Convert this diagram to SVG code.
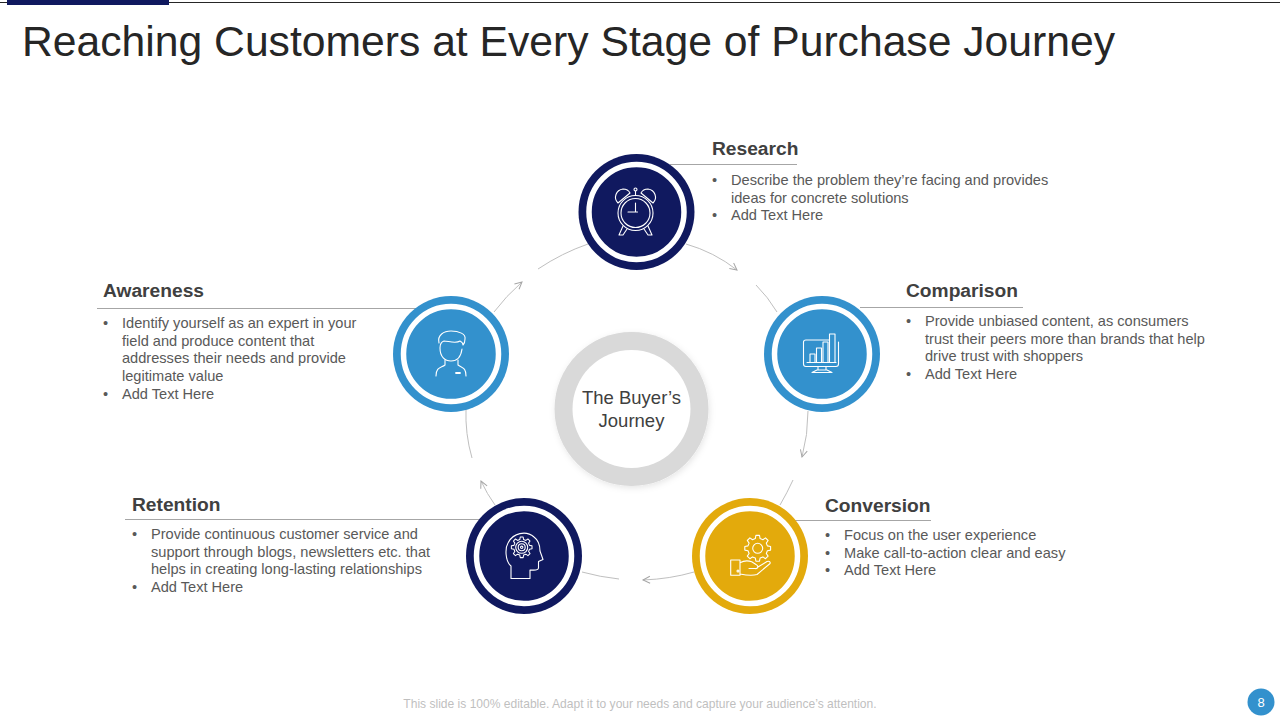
<svg xmlns="http://www.w3.org/2000/svg" width="1280" height="720" viewBox="0 0 1280 720">
<style>
text{font-family:"Liberation Sans",Arial,sans-serif}
.title{font-size:42.67px;fill:#262626}
.head{font-size:19.2px;font-weight:bold;fill:#404040}
.body{font-size:14.6px;fill:#595959}
.rule{stroke:#a6a6a6;stroke-width:1;fill:none}
.conn{stroke:#bfbfbf;stroke-width:1;fill:none}
.ic{fill:none;stroke:#fff;stroke-width:1.1;stroke-linecap:round;stroke-linejoin:round}
.w{fill:none;stroke:#fff;stroke-width:5.500}
</style>
<defs>
<marker id="arr" markerWidth="10" markerHeight="10" refX="8" refY="4" orient="auto" markerUnits="userSpaceOnUse"><path d="M1 0.5L8 4L1 7.5" fill="none" stroke="#a6a6a6" stroke-width="1"/></marker>
<filter id="sh" x="-20%" y="-20%" width="140%" height="140%"><feDropShadow dx="1" dy="2" stdDeviation="3" flood-color="#000" flood-opacity="0.1"/></filter>
<polygon id="gear" points="9.7,-2.4 12.9,-1.8 12.9,1.8 9.7,2.4 8.6,5.2 10.4,7.8 7.8,10.4 5.2,8.6 2.4,9.7 1.8,12.9 -1.8,12.9 -2.4,9.7 -5.2,8.6 -7.8,10.4 -10.4,7.8 -8.6,5.2 -9.7,2.4 -12.9,1.8 -12.9,-1.8 -9.7,-2.4 -8.6,-5.2 -10.4,-7.8 -7.8,-10.4 -5.2,-8.6 -2.4,-9.7 -1.8,-12.9 1.8,-12.9 2.4,-9.7 5.2,-8.6 7.8,-10.4 10.4,-7.8 8.6,-5.2"/>
</defs>
<rect width="1280" height="720" fill="#fff"/>
<path d="M0 2.500H1280" stroke="#262626" stroke-width="1"/>
<rect x="7" y="0" width="162" height="5" fill="#10195f"/>
<text class="title" x="22" y="56">Reaching Customers at Every Stage of Purchase Journey</text>
<g id="connectors">
<path class="conn" d="M686 244Q714 252 737 270" marker-end="url(#arr)"/>
<path class="conn" d="M756 285Q768 297 777 312"/>
<path class="conn" d="M808 411Q808 435 802 457" marker-end="url(#arr)"/>
<path class="conn" d="M793 480Q787 493 780 505"/>
<path class="conn" d="M694 572Q670 579 643 580" marker-end="url(#arr)"/>
<path class="conn" d="M619 579Q600 577 582 572"/>
<path class="conn" d="M495 505Q487 494 481 481" marker-end="url(#arr)"/>
<path class="conn" d="M472 458Q465 434 466 408"/>
<path class="conn" d="M494 312Q506 296 522 282" marker-end="url(#arr)"/>
<path class="conn" d="M538 269Q562 253 588 244"/>
<path class="rule" d="M670 164.500H797"/>
<path class="rule" d="M860 307.500H1023"/>
<path class="rule" d="M97 308.500H420"/>
<path class="rule" d="M125 519.500H490"/>
<path class="rule" d="M790 520.500H931"/>
</g>
<g id="center">
<circle cx="631.500" cy="409" r="77" fill="#d9d9d9" filter="url(#sh)"/>
<circle cx="631.500" cy="409" r="59" fill="#fff"/>
<text x="631.500" y="404" text-anchor="middle" font-size="18.500" fill="#404040">The Buyer’s</text>
<text x="631.500" y="427" text-anchor="middle" font-size="18.500" fill="#404040">Journey</text>
</g>
<g id="research">
<circle cx="636.500" cy="212" r="58" fill="#10195f"/><circle class="w" cx="636.500" cy="212" r="47.500"/>
<g class="ic">
<circle cx="635.500" cy="213" r="17.500"/><circle cx="635.500" cy="213" r="14.500"/>
<path d="M635.500 203V212H628M635.500 212h2"/>
<path d="M618 203C613 198 616 190 623 189C627 189 629 191 630 193ZM653 203C658 198 655 190 648 189C644 189 642 191 641 193Z"/>
<path d="M635.500 195.500V191M623 226L619 235H623L627 229M648 226L652 235H648L644 229"/>
<circle cx="635.500" cy="189.500" r="1.500"/>
</g>
<text class="head" x="712" y="155">Research</text>
<text class="body"><tspan x="712" y="185">•</tspan><tspan x="731" y="185">Describe the problem they’re facing and provides</tspan><tspan x="731" y="203">ideas for concrete solutions</tspan><tspan x="712" y="220">•</tspan><tspan x="731" y="220">Add Text Here</tspan></text>
</g>
<g id="comparison">
<circle cx="822" cy="354" r="58" fill="#3391cd"/><circle class="w" cx="822" cy="354" r="47.500"/>
<g class="ic">
<path d="M829 340H806Q803.500 340 803.500 342V364Q803.500 366.500 806 366.500H836Q838.500 366.500 838.500 364V342"/>
<path d="M810 362V354H815V362M816.500 362V348H821.500V362M823 362V342H828V362M829.500 362V334H835V362"/>
<path d="M807 362.500H836M818 366.500V370M826 366.500V370M812 372.500H832L827 370H817Z"/>
</g>
<text class="head" x="906" y="297">Comparison</text>
<text class="body"><tspan x="906" y="326">•</tspan><tspan x="925" y="326">Provide unbiased content, as consumers</tspan><tspan x="925" y="344">trust their peers more than brands that help</tspan><tspan x="925" y="361">drive trust with shoppers</tspan><tspan x="906" y="379">•</tspan><tspan x="925" y="379">Add Text Here</tspan></text>
</g>
<g id="conversion">
<circle cx="750" cy="556" r="58" fill="#e3aa0c"/><circle class="w" cx="750" cy="556" r="47.500"/>
<g class="ic">
<use href="#gear" transform="translate(757.700 548.300)"/>
<circle cx="757.700" cy="548.300" r="5"/>
<path d="M730.700 560H740V575.300H730.700ZM740 562.700C744 560.500 748 560.500 751.700 561.700L756 564.500C759 566 758 569 755 568.500H749M758 567L767 561.500C770 560.500 771 563 769.500 564L757 574.500C752 576 745 575 740 574"/>
<circle cx="738" cy="571" r="1"/>
</g>
<text class="head" x="825" y="512">Conversion</text>
<text class="body"><tspan x="825" y="540">•</tspan><tspan x="844" y="540">Focus on the user experience</tspan><tspan x="825" y="558">•</tspan><tspan x="844" y="558">Make call-to-action clear and easy</tspan><tspan x="825" y="575">•</tspan><tspan x="844" y="575">Add Text Here</tspan></text>
</g>
<g id="retention">
<circle cx="524" cy="556" r="58" fill="#10195f"/><circle class="w" cx="524" cy="556" r="47.500"/>
<g class="ic">
<path d="M511 578.500V566C505 561 505 548 508 543C513 533 526 530 534 537C538 540 540 545 540 551L543 559.500L538.500 561.500V568C538 571 534 570 530 570V578.500Z"/>
<use href="#gear" transform="translate(521.700 547.300) scale(0.8)" stroke-width="1.300"/>
<circle cx="521.700" cy="547.300" r="6"/><circle cx="521.700" cy="547.300" r="3.500"/><circle cx="521.700" cy="547.300" r="1.200"/>
</g>
<text class="head" x="132" y="511">Retention</text>
<text class="body"><tspan x="132" y="539">•</tspan><tspan x="151" y="539">Provide continuous customer service and</tspan><tspan x="151" y="557">support through blogs, newsletters etc. that</tspan><tspan x="151" y="574">helps in creating long-lasting relationships</tspan><tspan x="132" y="592">•</tspan><tspan x="151" y="592">Add Text Here</tspan></text>
</g>
<g id="awareness">
<circle cx="451" cy="354" r="58" fill="#3391cd"/><circle class="w" cx="451" cy="354" r="47.500"/>
<g class="ic">
<path d="M439 343C437 335 444 331 451 331C459 331 466 334 465 339C465 342 464 344 463 345C463 343 462 342 460 341C456 344 448 341 444 341C441 342 440 345 440 348M440 348C440 357 445 361 451 361C457 361 461 357 462 349"/>
<path d="M445 360V365C441 368 436 367 436 376M458 360V365C462 368 466 367 466 376"/>
<path d="M456 373H460" stroke-width="1.800"/>
</g>
<text class="head" x="103" y="297">Awareness</text>
<text class="body"><tspan x="103" y="328">•</tspan><tspan x="122" y="328">Identify yourself as an expert in your</tspan><tspan x="122" y="346">field and produce content that</tspan><tspan x="122" y="363">addresses their needs and provide</tspan><tspan x="122" y="381">legitimate value</tspan><tspan x="103" y="399">•</tspan><tspan x="122" y="399">Add Text Here</tspan></text>
</g>
<text x="640" y="708" text-anchor="middle" font-size="12.050" fill="#bfbfbf">This slide is 100% editable. Adapt it to your needs and capture your audience’s attention.</text>
<circle cx="1261" cy="702" r="13.500" fill="#3391cd"/>
<text x="1261" y="707" text-anchor="middle" font-size="13" fill="#fff">8</text>
</svg>
